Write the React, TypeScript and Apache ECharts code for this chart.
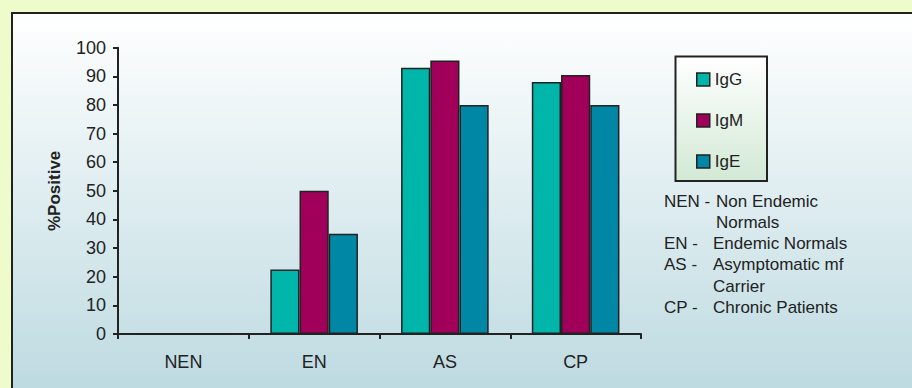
import React, { useEffect, useRef } from "react";
import * as echarts from "echarts";

// Sample groups on the x axis
const categories = ["NEN", "EN", "AS", "CP"];

// Percentage of positive sera per antibody class
const seriesNames = ["IgG", "IgM", "IgE"];
const igG = [0, 22.5, 93, 88];
const igM = [0, 50, 95.5, 90.5];
const igE = [0, 35, 80, 80];

const yTicks = { min: 0, max: 100, interval: 10 };

// Key to the group abbreviations
const noteAbbr = ["NEN -", "EN -", "AS -", "CP -"];
const noteText = ["Non Endemic\nNormals", "Endemic Normals", "Asymptomatic mf\nCarrier", "Chronic Patients"];

const colors = ["#00B5A9", "#A0005A", "#0087A6"];
const FONT = "'Liberation Sans', Arial, Helvetica, sans-serif";
const INK = "#222222";

export default function App() {
  const ref = useRef<HTMLDivElement>(null);

  useEffect(() => {
    if (!ref.current) return;
    const chart = echarts.init(ref.current, undefined, { renderer: "svg" });

    const values = [igG, igM, igE];

    // key lines: abbreviations in one column, descriptions in the next
    const noteElems: any[] = [];
    let lineY = 201;
    const lineH = 21.3;
    noteAbbr.forEach((abbr, i) => {
      const lines = noteText[i].split("\n").length;
      noteElems.push({
        type: "text",
        x: 664,
        y: lineY,
        style: { text: abbr, font: `17px ${FONT}`, fill: INK, verticalAlign: "middle" },
      });
      noteElems.push({
        type: "text",
        x: i === 0 ? 716 : 713,
        y: lineY,
        style: {
          text: noteText[i],
          font: `17px ${FONT}`,
          fill: INK,
          verticalAlign: "top",
          lineHeight: lineH,
          y: -lineH / 2,
        },
      });
      lineY += lines * lineH;
    });

    chart.setOption({
      animation: false,
      backgroundColor: "#EEFCCC",
      textStyle: { fontFamily: FONT },
      graphic: [
        {
          type: "rect",
          z: -10,
          shape: { x: 12, y: 13, width: 920, height: 400 },
          style: {
            fill: new echarts.graphic.LinearGradient(0, 0, 0, 1, [
              { offset: 0, color: "#FFFFFF" },
              { offset: 1, color: "#B9D8DF" },
            ]),
            stroke: INK,
            lineWidth: 2,
          },
        },
        {
          type: "rect",
          z: -5,
          shape: { x: 675.5, y: 56.5, width: 91.5, height: 124.5 },
          style: {
            fill: new echarts.graphic.LinearGradient(0, 0, 0, 1, [
              { offset: 0, color: "#FFFFFF" },
              { offset: 1, color: "#D2E9D5" },
            ]),
            stroke: INK,
            lineWidth: 2,
          },
        },
        ...noteElems,
      ],
      legend: {
        orient: "vertical",
        left: 696,
        top: 71,
        padding: 0,
        itemWidth: 13,
        itemHeight: 13,
        itemGap: 24,
        icon: "rect",
        data: seriesNames,
        textStyle: { fontSize: 17, color: INK, fontFamily: FONT, lineHeight: 17 },
        itemStyle: { borderColor: INK, borderWidth: 1.5 },
      },
      grid: { left: 118, right: 271, top: 47.7, bottom: 54 },
      xAxis: {
        type: "category",
        data: categories,
        axisLine: { lineStyle: { color: INK, width: 2 } },
        axisTick: { show: true, length: 5, lineStyle: { color: INK, width: 2 } },
        axisLabel: { fontSize: 18, color: INK, margin: 19, fontFamily: FONT },
      },
      yAxis: {
        type: "value",
        min: yTicks.min,
        max: yTicks.max,
        interval: yTicks.interval,
        name: "%Positive",
        nameLocation: "middle",
        nameGap: 55,
        nameRotate: 90,
        nameTextStyle: { fontSize: 17, fontWeight: "bold", color: INK, fontFamily: FONT },
        axisLine: { show: true, lineStyle: { color: INK, width: 2 } },
        axisTick: { show: true, length: 5, lineStyle: { color: INK, width: 2 } },
        axisLabel: { fontSize: 18, color: INK, margin: 12, fontFamily: FONT },
        splitLine: { show: false },
      },
      series: seriesNames.map((name, i) => ({
        name,
        type: "bar",
        data: values[i],
        barGap: "0%",
        barCategoryGap: "33%",
        itemStyle: { color: colors[i], borderColor: INK, borderWidth: 1.5 },
      })),
    });

    return () => chart.dispose();
  }, []);

  return (
    <div
      ref={ref}
      style={{ position: "absolute", left: 0, top: 0, width: 912, height: 388 }}
    />
  );
}
